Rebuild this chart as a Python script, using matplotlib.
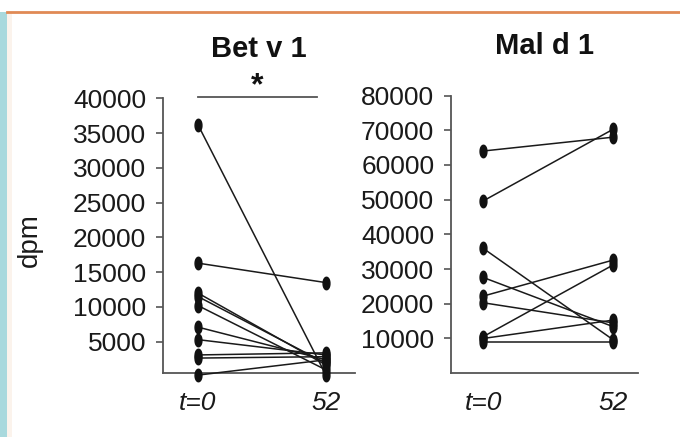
import numpy as np
import matplotlib
matplotlib.use("Agg")
import matplotlib.pyplot as plt
from matplotlib.patches import Rectangle
from matplotlib.lines import Line2D
from matplotlib.path import Path

plt.rcParams['font.family'] = ['Liberation Sans', 'DejaVu Sans']

timepoints = ["t=0", "52"]

bet_t0 = [36200, 16300, 12000, 11500, 10200, 7100, 5300, 3100, 2650, 200]
bet_52 = [200, 13500, 1650, 1900, 950, 2400, 3100, 3400, 2850, 2400]
bet_ticks = [5000, 10000, 15000, 20000, 25000, 30000, 35000, 40000]

mal_t0 = [64000, 49600, 36000, 27600, 22200, 20300, 10500, 10000, 9000]
mal_52 = [68000, 70300, 9600, 13400, 32600, 14500, 31200, 15300, 9000]
mal_ticks = [10000, 20000, 30000, 40000, 50000, 60000, 70000, 80000]

W, H = 680, 437
fig = plt.figure(figsize=(W / 100, H / 100), dpi=100)
fig.patch.set_facecolor("white")

# slide decorations
fig.add_artist(Rectangle((0, 0), 7 / W, 1 - 12 / H, transform=fig.transFigure,
                         facecolor="#a9d9dd", edgecolor="none"))
fig.add_artist(Rectangle((7 / W, 0), 5 / W, 1 - 12 / H, transform=fig.transFigure,
                         facecolor="#fbf3ec", edgecolor="none"))
fig.add_artist(Line2D([7 / W, 1], [1 - 12 / H, 1 - 12 / H], transform=fig.transFigure,
                      color="#e08a55", lw=2))

# vertical ellipse marker
th = np.linspace(0, 2 * np.pi, 40)
ell = Path(np.column_stack([0.55 * np.cos(th), np.sin(th)]))

def px_axes(x0, x1, ytop, ybot):
    return [x0 / W, 1 - ybot / H, (x1 - x0) / W, (ybot - ytop) / H]

ax1 = fig.add_axes(px_axes(163, 355, 98.3, 373.3))
ax2 = fig.add_axes(px_axes(451, 638, 95.5, 373.2))

def style(ax, ticks, ylim, xlim, title, t0, t52):
    for a, b in zip(t0, t52):
        ax.plot([0, 1], [a, b], color="#1a1a1a", lw=1.1, marker=ell, ms=9,
                mfc="#111111", mec="#111111", clip_on=False, zorder=3)
    ax.set_xlim(*xlim)
    ax.set_ylim(*ylim)
    ax.set_yticks(ticks)
    ax.set_yticklabels([str(t) for t in ticks], fontsize=19, color="#1a1a1a")
    ax.set_xticks([0, 1])
    ax.set_xticklabels(timepoints, fontsize=19, style="italic", color="#1a1a1a")
    ax.tick_params(axis="y", direction="out", length=5, width=1.2, color="#555555", pad=7)
    ax.tick_params(axis="x", length=0, pad=13)
    for s in ["top", "right"]:
        ax.spines[s].set_visible(False)
    for s in ["left", "bottom"]:
        ax.spines[s].set_color("#555555")
        ax.spines[s].set_linewidth(1.3)
    ax.set_title(title, fontsize=21, fontweight="bold", pad=30, color="#111111")
    ax.patch.set_alpha(0)

style(ax1, bet_ticks, (460, 40000), (-0.273, 1.227), "Bet v 1", bet_t0, bet_52)
style(ax2, mal_ticks, (0, 80000), (-0.246, 1.19), "Mal d 1", mal_t0, mal_52)

# significance bar
ax1.plot([0, 0.93], [40200, 40200], color="#555555", lw=1.3, clip_on=False)
ax1.text(0.465, 41700, "*", ha="center", va="center", fontsize=23, fontweight="bold",
         color="#111111")

fig.text(30 / W, 1 - 240 / H, "dpm", rotation=90, ha="center", va="center",
         fontsize=20, color="#1a1a1a")

fig.savefig("out.png", dpi=100, facecolor="white")
